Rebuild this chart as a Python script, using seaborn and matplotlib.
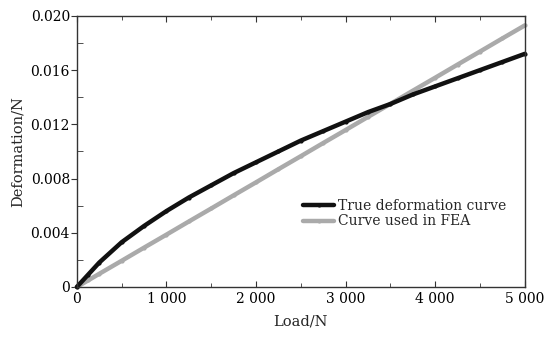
import pandas as pd
import matplotlib.pyplot as plt
import matplotlib.ticker as mticker
import seaborn as sns

load = [0, 125, 250, 500, 750, 1000, 1250, 1500, 1750, 2000, 2250,
        2500, 2750, 3000, 3250, 3500, 3750, 4000, 4250, 4500, 4750, 5000]
true_def = [0, 0.0009, 0.0018, 0.0033, 0.0045, 0.0056, 0.0066, 0.0075, 0.0084,
            0.0092, 0.0100, 0.0108, 0.0115, 0.0122, 0.0129, 0.0135, 0.0142,
            0.0148, 0.0154, 0.0160, 0.0166, 0.0172]
fea_def = [0, 0.00048, 0.00097, 0.00193, 0.00290, 0.00386, 0.00483, 0.00579,
           0.00676, 0.00772, 0.00869, 0.00965, 0.01062, 0.01158, 0.01255,
           0.01351, 0.01448, 0.01544, 0.01641, 0.01737, 0.01834, 0.0193]
names = ["True deformation curve", "Curve used in FEA"]

df = pd.concat([
    pd.DataFrame({"Load": load, "Deformation": true_def, "curve": names[0]}),
    pd.DataFrame({"Load": load, "Deformation": fea_def, "curve": names[1]}),
])

sns.set_style("ticks")
plt.rcParams["font.family"] = ["DejaVu Serif"]
plt.rcParams["font.size"] = 10

fig = plt.figure(figsize=(5.45, 3.38), dpi=100)
ax = fig.add_axes([0.141, 0.151, 0.822, 0.802])

sns.lineplot(data=df, x="Load", y="Deformation", hue="curve",
             palette={names[0]: "#111111", names[1]: "#aaaaaa"},
             hue_order=names[::-1], linewidth=3.2, marker="o", markersize=3,
             markeredgewidth=0, clip_on=False, ax=ax)

ax.set_xlim(0, 5000)
ax.set_ylim(0, 0.020)
ax.xaxis.set_major_locator(mticker.MultipleLocator(1000))
ax.xaxis.set_minor_locator(mticker.MultipleLocator(500))
ax.yaxis.set_major_locator(mticker.MultipleLocator(0.004))
ax.yaxis.set_minor_locator(mticker.MultipleLocator(0.002))
ax.xaxis.set_major_formatter(mticker.FuncFormatter(
    lambda v, p: "0" if v == 0 else f"{int(v):,}".replace(",", " ")))
ax.yaxis.set_major_formatter(mticker.FuncFormatter(
    lambda v, p: "0" if abs(v) < 1e-9 else f"{v:.3f}"))

ax.tick_params(axis="x", which="both", direction="in", top=True, colors="#333333",
               labelcolor="black", labelsize=10)
ax.tick_params(axis="x", which="major", length=4)
ax.tick_params(axis="x", which="minor", length=3)
ax.tick_params(axis="y", which="major", direction="out", length=4, colors="#333333",
               labelcolor="black", labelsize=10, pad=1)
ax.tick_params(axis="y", which="minor", direction="in", length=4, colors="#333333")
for s in ax.spines.values():
    s.set_color("#333333")
    s.set_linewidth(1.0)

ax.set_xlabel("Load/N", fontsize=10.5, labelpad=6)
ax.set_ylabel("Deformation/N", fontsize=10.5, labelpad=4)

h, l = ax.get_legend_handles_labels()
order = [l.index(n) for n in names]
ax.legend([h[i] for i in order], [l[i] for i in order], loc="center left",
          bbox_to_anchor=(0.49, 0.27), frameon=False, handlelength=2.2,
          handletextpad=0.3, labelspacing=0.1, borderpad=0, fontsize=10)

fig.savefig("out.png", dpi=100)
